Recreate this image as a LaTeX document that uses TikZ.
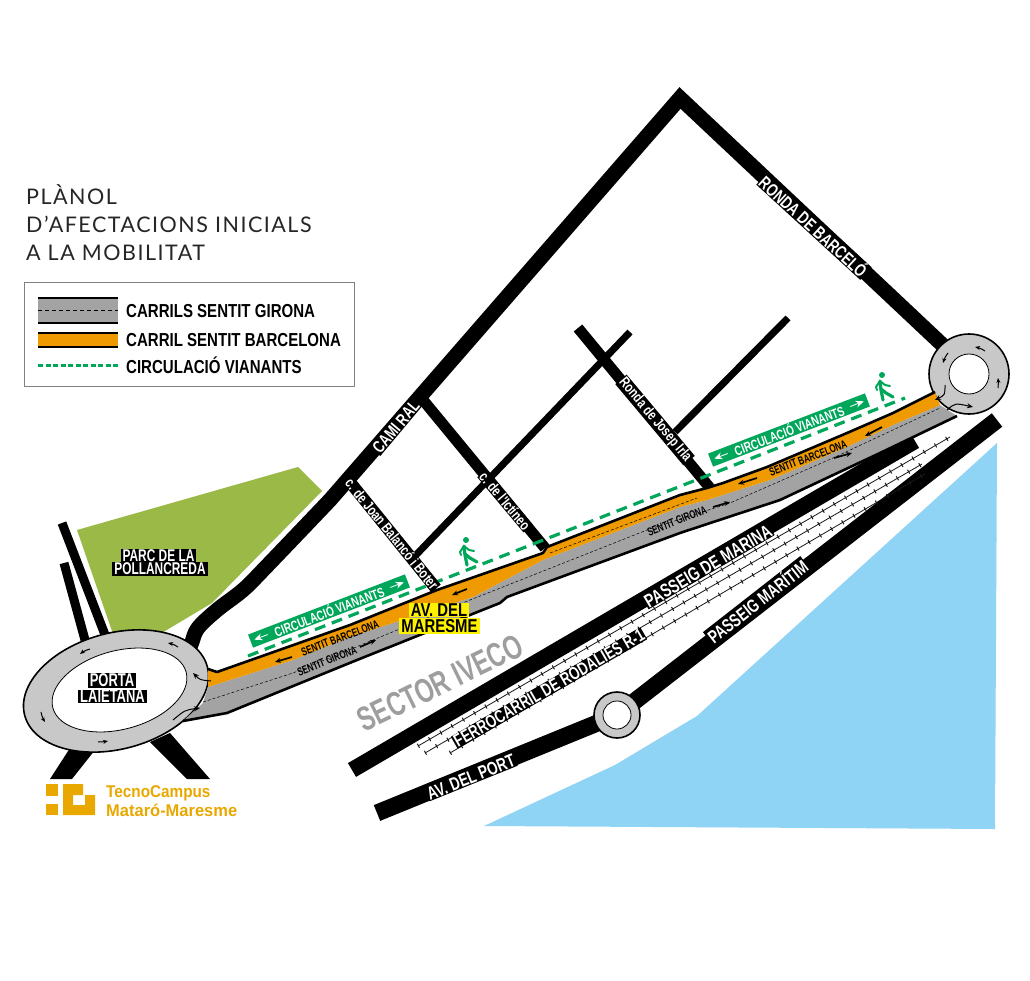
\documentclass[tikz,border=0pt]{standalone}
\usepackage{fontspec}
\usetikzlibrary{arrows.meta,calc}
\setmainfont{Liberation Sans}
\newfontfamily\cond{Liberation Sans}[FakeStretch=0.8]
\newfontfamily\condc{Liberation Sans}[FakeStretch=0.74]
\newfontfamily\condb{Liberation Sans}[FakeStretch=0.7]
\newfontfamily\logoa{Liberation Sans}[FakeStretch=0.9]
\newfontfamily\logob{Liberation Sans}[FakeStretch=0.97]
\newfontfamily\titlefont{Lato}[LetterSpace=7]
\definecolor{water}{HTML}{8FD3F5}
\definecolor{park}{HTML}{9BB946}
\definecolor{lane}{HTML}{EE9A00}
\definecolor{roadgray}{HTML}{A3A3A3}
\definecolor{ringgray}{HTML}{C8C8C8}
\definecolor{walkgreen}{HTML}{00A65A}
\definecolor{tcm}{HTML}{E8A800}
\definecolor{signyellow}{HTML}{FFF200}
\tikzset{
  road/.style={draw=black,line width=#1,line cap=butt,line join=miter},
  road/.default=16,
  blk/.style={fill=black,text=white,font=\condb\bfseries\fontsize{#1}{#1}\selectfont,inner xsep=2pt,inner ysep=0.5pt},
  blk/.default=17,
  roadlabel/.style={text=white,fill=black,font=\condc\bfseries\fontsize{#1}{#1}\selectfont,inner xsep=1pt,inner ysep=0.5pt},
  roadlabel/.default=17,
  sign/.style={fill=signyellow,text=black,font=\cond\bfseries\fontsize{18.6}{18.6}\selectfont,inner xsep=2pt,inner ysep=1pt},
  lanetext/.style={text=black,font=\condb\bfseries\fontsize{11.5}{11.5}\selectfont,inner sep=0pt},
  rarrow/.style={-{Stealth[length=5pt,width=4pt]},line width=1pt},
  larrow/.style={-{Stealth[length=6pt,width=5pt]},line width=1.7pt},
  green/.style={draw=walkgreen,line width=3.2,dash pattern=on 11pt off 7pt},
  walkband/.style={fill=walkgreen,text=white,minimum width=168pt,minimum height=14pt,inner sep=0pt,font=\condc\bfseries\fontsize{13.5}{13.5}\selectfont},
  bandarrow/.style={draw=white,line width=0.8pt,-{Stealth[length=8pt,width=7pt]}},
  leg/.style={anchor=west,font=\cond\bfseries\fontsize{18.8}{18.8}\selectfont,inner sep=0pt},
  titl/.style={anchor=west,font=\titlefont\fontsize{21.5}{21.5}\selectfont,text=black!85,inner sep=0pt},
  rail/.style={draw=black!90,line width=0.8pt},
  railt/.style={draw=black!90,line width=4.5pt,dash pattern=on 1pt off 12pt},
  walker/.pic={
    \fill[walkgreen] (0,-25) circle (3);
    \draw[walkgreen,line width=3.2,line cap=round,line join=round] (-2,-19) -- (-1,-10) -- (1,0);
    \draw[walkgreen,line width=3.2,line cap=round,line join=round] (-1,-11) -- (4,-7) -- (11,-3);
    \draw[walkgreen,line width=2,line cap=round,line join=round] (-2,-19) -- (-6,-13) -- (-5,-10);
    \draw[walkgreen,line width=2,line cap=round,line join=round] (-2,-19) -- (3,-15) -- (8,-14);
  }
}
\begin{document}
\begin{tikzpicture}[x=1pt,y=-1pt]
\useasboundingbox (0,0) rectangle (1030,981);
\fill[white] (0,0) rectangle (1030,981);

% water and park
\fill[water] (997,443) -- (995,829) -- (484,826) -- (615,765) -- (697,716) -- cycle;
\fill[park] (77,530) -- (298,467) -- (322,491) -- (212,603) -- (160,634) -- (113,634) -- cycle;

% main roads
\draw[road=15] plot[smooth,tension=0.6] coordinates {(189,650) (192,642) (198,628) (217,610) (243,590) (265,568) (330,500)} -- (680,98) -- (950,352);
\draw[road=16] (352,770) -- (915,441);
\draw[road=17] (377,813) -- (617,715) -- (997,420);
\draw[road=9] (62,523) -- (107,640);
\draw[road=9] (64,563) -- (85,640);
\fill (50,779) -- (72,779) -- (95,750) -- (72,745) -- cycle;
\fill (187,779) -- (210,779) -- (170,733) -- (150,742) -- cycle;

% inner streets
\draw[road=11] (423,400) -- (545,548);
\draw[road=7] (350,480) -- (434,590);
\draw[road=7] (630,332) -- (415,556);
\draw[road=11] (578,328) -- (710,488);
\draw[road=7] (788,318) -- (675,432);

% railway
\foreach \a/\b/\c/\d in {418/746/950/437, 425/753/922/464, 450/753/925/474}{
  \draw[rail] (\a,\b) -- (\c,\d);
  \draw[railt] (\a,\b) -- (\c,\d);
}

% roundabouts
\draw[line width=1.6,fill=ringgray,rotate around={15:(116,691)}] (116,691) ellipse (94.5pt and 58pt);
\draw[line width=0.8,fill=white,rotate around={15:(119.5,690)}] (119.5,690) ellipse (69pt and 39.3pt);
\draw[line width=1.6,fill=ringgray] (969,374) circle (40pt);
\draw[line width=0.8,fill=white] (969,374) circle (20pt);
\draw[line width=1.6,fill=ringgray] (617,715) circle (23pt);
\draw[line width=0.8,fill=white] (617,715) circle (14pt);

% avenue
\fill[roadgray] (208,687) -- (293,660) -- (350,637) -- (473,597) -- (543,560) -- (680,507) -- (707,500) -- (770,480) -- (847,447) -- (893,425) -- (940,405) -- (957,416)
  -- (880,453) -- (780,500) -- (680,533) -- (507,597) -- (500,603) -- (357,660) -- (227,713) -- (183,721) -- (203,703) -- cycle;
\fill[lane] (208,669) -- (217,672) -- (350,625) -- (437,590) -- (543,553) -- (547,547) -- (680,495) -- (707,488) -- (723,483) -- (767,467) -- (847,433) -- (893,413) -- (935,392) -- (940,405)
  -- (893,425) -- (847,447) -- (770,480) -- (707,500) -- (680,507) -- (543,560) -- (473,597) -- (350,637) -- (293,660) -- (208,687) -- cycle;
\draw[line width=2.6,line join=round] (208,669) -- (217,672) -- (350,625) -- (437,590) -- (543,553) -- (547,547) -- (680,495) -- (707,488) -- (723,483) -- (767,467) -- (847,433) -- (893,413) -- (935,392);
\draw[line width=2.6,line join=round] (183,721) -- (227,713) -- (357,660) -- (500,603) -- (507,597) -- (680,533) -- (780,500) -- (880,453) -- (957,416);
\draw[line width=0.5,dash pattern=on 3pt off 2pt] (203,702) -- (293,673) -- (470,600) -- (647,530) -- (730,503) -- (833,458) -- (940,408);
\draw[line width=0.5,dash pattern=on 3pt off 2pt] (550,553) -- (697,498);

% pedestrian route
\draw[green] (248,656) -- (905,398);
\node[walkband,rotate=21] (wa) at (329,611) {CIRCULACIÓ VIANANTS};
\node[walkband,rotate=21] (wb) at (789,430) {CIRCULACIÓ VIANANTS};
\foreach \b in {wa,wb}{
  \draw[bandarrow] ($(\b.west)!0.11!(\b.east)$) -- ($(\b.west)!0.025!(\b.east)$);
  \draw[bandarrow] ($(\b.west)!0.89!(\b.east)$) -- ($(\b.west)!0.975!(\b.east)$);
}
\draw pic at (466,565) {walker};
\draw pic at (882,400) {walker};

% lane labels and arrows
\node[lanetext,rotate=21] (sb1) at (340,638) {SENTIT BARCELONA};
\node[lanetext,rotate=22] (sg1) at (327,661) {SENTIT GIRONA};
\node[lanetext,rotate=21] (sb2) at (808,458) {SENTIT BARCELONA};
\node[lanetext,rotate=22] (sg2) at (677,521) {SENTIT GIRONA};
\draw[larrow] (292,657) -- (275,662);
\draw[larrow] (360,647) -- (376,640);
\draw[larrow] (467,589) -- (452,595);
\draw[larrow] (713,507) -- (730,502);
\draw[larrow] (757,478) -- (738,484);
\draw[larrow] (834,458) -- (852,453);
\draw[larrow] (882,427) -- (865,436);

% roundabout arrows
\draw[rarrow] (178,647) to[bend right=10] (168,643);
\draw[rarrow] (90,649) to[bend right=10] (80,654);
\draw[rarrow] (41,712) to[bend right=10] (45,722);
\draw[rarrow] (98,742) to[bend right=5] (108,741);
\draw[larrow,line width=1pt] (211,681) .. controls (200,680) .. (193,673);
\draw[larrow,line width=1pt] (173,720) .. controls (185,710) .. (200,708);
\draw[rarrow] (985,351) to[bend right=10] (975,347);
\draw[rarrow] (948,353) to[bend right=10] (943,363);
\draw[rarrow] (998,388) to[bend right=5] (998,378);
\draw[larrow,line width=1pt] (945,385) .. controls (945,395) .. (935,400);
\draw[larrow,line width=1pt] (947,410) .. controls (955,403) .. (973,407);

% road names
\node[roadlabel=17.3,rotate=50] (camiral) at (396,427) {CAMI RAL};
\node[roadlabel=17.8,rotate=-42.5] (ronda) at (814,226) {RONDA DE BARCELÓ};
\node[roadlabel=18.9,rotate=30.5] (marina) at (708,566) {PASSEIG DE MARINA};
\node[roadlabel=18.4,rotate=38] (maritim) at (757,601) {PASSEIG MARÍTIM};
\node[roadlabel=18.4,rotate=22] (port) at (471,777) {AV. DEL PORT};
\node[roadlabel=18,rotate=30] (ferro) at (549,688) {FERROCARRIL DE RODALIES R-1};
\node[roadlabel=14.8,rotate=-51] (balanco) at (392,534) {c. de Joan Balancó i Boter};
\node[roadlabel=14.8,rotate=-50] (ictineo) at (505,501) {c. de l'Ictíneo};
\node[roadlabel=14.8,rotate=-50] (irla) at (655,420) {Ronda de Josep Irla};
\node[rotate=26,text=black!38,font=\condb\bfseries\fontsize{34}{34}\selectfont,inner sep=0pt] (iveco) at (440,683) {SECTOR IVECO};

% black and yellow signs
\node[blk=17] (parc1) at (158.5,555.5) {PARC DE LA};
\node[blk=17] (parc2) at (160,569) {POLLANCREDA};
\node[blk=18.5] (porta1) at (112,680.5) {PORTA};
\node[blk=18.5] (porta2) at (112.5,696.5) {LAIETANA};
\node[sign] (av1) at (439,610) {AV. DEL};
\node[sign] (av2) at (439.5,626) {MARESME};

% title
\node[titl] (t1) at (26,195) {PLÀNOL};
\node[titl] (t2) at (26,224) {D’AFECTACIONS INICIALS};
\node[titl] (t3) at (26,253) {A LA MOBILITAT};

% legend
\draw[draw=black!50,line width=0.8] (24.5,282) rectangle (354,386);
\fill[roadgray] (38,298) rectangle (118,323);
\draw[line width=1.2] (38,298) -- (118,298) (38,323) -- (118,323);
\draw[line width=0.5,dash pattern=on 4pt off 3pt] (38,310.5) -- (118,310.5);
\fill[lane] (38,333) rectangle (118,347);
\draw[line width=1.2] (38,333) -- (118,333) (38,347) -- (118,347);
\draw[draw=walkgreen,line width=3,dash pattern=on 5pt off 2.5pt] (38,365) -- (118,365);
\node[leg] (l1) at (126,311) {CARRILS SENTIT GIRONA};
\node[leg] (l2) at (126,340) {CARRIL SENTIT BARCELONA};
\node[leg] (l3) at (126,365) {CIRCULACIÓ VIANANTS};

% logo
\fill[tcm] (46,784) rectangle (57.5,796);
\fill[tcm] (46,804) rectangle (57.5,815);
\fill[tcm,even odd rule] (63,784) -- (83,784) -- (83,795) -- (95,795) -- (95,815) -- (63,815) -- cycle (73,795) rectangle (85,805);
\node[anchor=west,text=tcm,font=\logoa\bfseries\fontsize{17}{17}\selectfont,inner sep=0pt] (tc1) at (106,793) {TecnoCampus};
\node[anchor=west,text=tcm,font=\logob\bfseries\fontsize{17}{17}\selectfont,inner sep=0pt] (tc2) at (106,810) {Mataró-Maresme};
\end{tikzpicture}
\end{document}
